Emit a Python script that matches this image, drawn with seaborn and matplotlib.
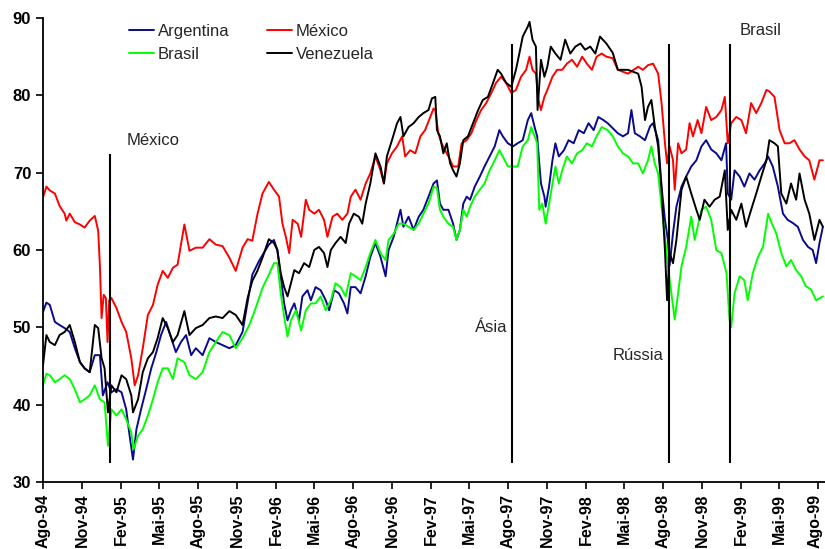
import numpy as np
import pandas as pd
import matplotlib.pyplot as plt
import matplotlib.transforms as mtransforms
import seaborn as sns

# valores (data, indice)
argentina = [
    ("1994-08-01", 52.0), ("1994-08-09", 53.2), ("1994-08-17", 52.9), ("1994-08-29", 50.7), ("1994-09-09", 50.3),
    ("1994-09-21", 49.9), ("1994-10-03", 49.4), ("1994-10-15", 47.3), ("1994-10-27", 45.5), ("1994-11-07", 44.7),
    ("1994-11-19", 44.2), ("1994-12-01", 46.4), ("1994-12-13", 46.4), ("1994-12-20", 41.2), ("1994-12-31", 42.9),
    ("1995-01-09", 41.6), ("1995-01-21", 42.0), ("1995-02-02", 41.6), ("1995-02-13", 39.4), ("1995-02-21", 36.0),
    ("1995-03-01", 32.9), ("1995-03-09", 36.8), ("1995-03-20", 39.4), ("1995-04-01", 42.0), ("1995-04-13", 44.7),
    ("1995-04-25", 46.8), ("1995-05-06", 49.0), ("1995-05-18", 50.7), ("1995-05-30", 48.6), ("1995-06-10", 46.8),
    ("1995-06-22", 48.1), ("1995-07-04", 49.0), ("1995-07-16", 46.4), ("1995-07-27", 47.3), ("1995-08-12", 46.4),
    ("1995-08-28", 48.6), ("1995-09-12", 48.1), ("1995-09-28", 47.7), ("1995-10-14", 47.3), ("1995-10-29", 47.7),
    ("1995-11-14", 49.4), ("1995-11-26", 53.3), ("1995-12-07", 56.8), ("1995-12-23", 58.6), ("1996-01-15", 60.7),
    ("1996-01-27", 61.3), ("1996-02-04", 60.0), ("1996-02-12", 56.6), ("1996-02-20", 53.1), ("1996-02-28", 50.9),
    ("1996-03-07", 52.2), ("1996-03-15", 53.1), ("1996-03-26", 50.9), ("1996-04-03", 54.0), ("1996-04-15", 54.8),
    ("1996-04-23", 53.5), ("1996-05-04", 55.2), ("1996-05-16", 54.8), ("1996-05-28", 53.5), ("1996-06-05", 52.2),
    ("1996-06-17", 54.8), ("1996-06-28", 54.4), ("1996-07-10", 53.1), ("1996-07-18", 51.8), ("1996-07-26", 55.2),
    ("1996-08-06", 55.2), ("1996-08-18", 54.4), ("1996-08-30", 56.6), ("1996-09-10", 59.1), ("1996-09-22", 60.9),
    ("1996-10-04", 59.1), ("1996-10-16", 56.6), ("1996-10-23", 60.0), ("1996-11-04", 61.7), ("1996-11-20", 65.2),
    ("1996-11-27", 63.0), ("1996-12-09", 64.3), ("1996-12-21", 62.6), ("1997-01-02", 64.3), ("1997-01-13", 65.2),
    ("1997-01-25", 66.9), ("1997-02-06", 68.6), ("1997-02-14", 69.0), ("1997-02-21", 66.0), ("1997-03-01", 65.2),
    ("1997-03-13", 65.2), ("1997-03-24", 63.4), ("1997-04-01", 61.3), ("1997-04-09", 62.6), ("1997-04-17", 66.0),
    ("1997-04-25", 66.9), ("1997-05-03", 66.5), ("1997-05-14", 68.2), ("1997-05-26", 69.5), ("1997-06-06", 70.8),
    ("1997-06-18", 72.1), ("1997-06-30", 73.4), ("1997-07-11", 75.5), ("1997-07-19", 74.7), ("1997-07-31", 73.8),
    ("1997-08-12", 73.4), ("1997-08-23", 73.8), ("1997-09-04", 74.2), ("1997-09-16", 76.8), ("1997-09-24", 77.7),
    ("1997-10-02", 75.9), ("1997-10-08", 74.7), ("1997-10-13", 71.2), ("1997-10-17", 68.6), ("1997-10-25", 66.9),
    ("1997-10-28", 65.6), ("1997-11-05", 68.2), ("1997-11-13", 71.6), ("1997-11-20", 73.8), ("1997-11-28", 72.1),
    ("1997-12-10", 72.9), ("1997-12-21", 74.2), ("1998-01-02", 73.8), ("1998-01-14", 75.5), ("1998-01-26", 75.1),
    ("1998-02-06", 76.4), ("1998-02-18", 75.5), ("1998-03-01", 77.2), ("1998-03-13", 76.8), ("1998-03-23", 76.4),
    ("1998-04-16", 75.1), ("1998-04-28", 74.7), ("1998-05-10", 75.1), ("1998-05-18", 78.1), ("1998-05-26", 75.1),
    ("1998-06-07", 74.7), ("1998-06-19", 74.2), ("1998-07-01", 76.0), ("1998-07-08", 76.4), ("1998-07-20", 74.2),
    ("1998-07-28", 68.2), ("1998-08-05", 63.9), ("1998-08-12", 61.3), ("1998-08-16", 58.0), ("1998-08-24", 62.2),
    ("1998-09-01", 65.6), ("1998-09-13", 68.2), ("1998-09-24", 69.5), ("1998-10-06", 70.8), ("1998-10-18", 71.6),
    ("1998-10-30", 73.4), ("1998-11-10", 74.2), ("1998-11-22", 73.0), ("1998-12-04", 72.5), ("1998-12-16", 71.6),
    ("1998-12-27", 73.8), ("1998-12-31", 67.3), ("1999-01-08", 66.5), ("1999-01-16", 70.3), ("1999-01-28", 69.5),
    ("1999-02-08", 68.2), ("1999-02-20", 69.9), ("1999-03-04", 69.1), ("1999-03-16", 70.3), ("1999-03-28", 71.2),
    ("1999-04-05", 72.1), ("1999-04-16", 70.8), ("1999-04-28", 68.2), ("1999-05-10", 64.7), ("1999-05-21", 63.9),
    ("1999-06-02", 63.5), ("1999-06-14", 63.0), ("1999-06-26", 61.3), ("1999-07-08", 60.4), ("1999-07-19", 60.0),
    ("1999-07-27", 58.3), ("1999-08-04", 60.9), ("1999-08-12", 63.0),
]

brasil = [
    ("1994-08-01", 42.5), ("1994-08-09", 44.0), ("1994-08-17", 43.8), ("1994-08-29", 42.9), ("1994-09-09", 43.3),
    ("1994-09-21", 43.8), ("1994-10-03", 43.3), ("1994-10-15", 42.0), ("1994-10-27", 40.3), ("1994-11-07", 40.7),
    ("1994-11-19", 41.2), ("1994-12-01", 42.5), ("1994-12-13", 40.7), ("1994-12-24", 40.3), ("1995-01-01", 34.7),
    ("1995-01-09", 39.4), ("1995-01-21", 38.6), ("1995-02-02", 39.4), ("1995-02-13", 38.1), ("1995-02-25", 36.4),
    ("1995-03-02", 34.2), ("1995-03-13", 36.0), ("1995-03-24", 36.8), ("1995-04-05", 38.6), ("1995-04-17", 40.7),
    ("1995-04-28", 42.9), ("1995-05-10", 44.7), ("1995-05-22", 44.7), ("1995-06-03", 43.3), ("1995-06-14", 46.0),
    ("1995-06-30", 45.5), ("1995-07-12", 43.8), ("1995-07-27", 43.3), ("1995-08-12", 44.2), ("1995-08-28", 46.8),
    ("1995-09-12", 48.1), ("1995-09-28", 49.4), ("1995-10-14", 49.0), ("1995-10-29", 47.3), ("1995-11-14", 48.6),
    ("1995-11-30", 50.3), ("1995-12-15", 52.5), ("1995-12-31", 55.1), ("1996-01-15", 56.8), ("1996-01-27", 58.3),
    ("1996-02-04", 58.3), ("1996-02-12", 54.4), ("1996-02-20", 51.4), ("1996-02-28", 48.8), ("1996-03-07", 50.9),
    ("1996-03-19", 52.2), ("1996-03-31", 49.6), ("1996-04-11", 52.2), ("1996-04-23", 53.1), ("1996-05-04", 53.1),
    ("1996-05-16", 54.0), ("1996-05-28", 52.2), ("1996-06-09", 53.5), ("1996-06-20", 55.7), ("1996-07-02", 55.2),
    ("1996-07-14", 54.0), ("1996-07-26", 57.0), ("1996-08-06", 56.6), ("1996-08-18", 56.1), ("1996-08-30", 57.8),
    ("1996-09-10", 59.6), ("1996-09-22", 61.3), ("1996-10-04", 59.6), ("1996-10-16", 58.7), ("1996-10-23", 61.3),
    ("1996-11-04", 62.1), ("1996-11-16", 63.4), ("1996-11-27", 63.4), ("1996-12-09", 63.0), ("1996-12-21", 62.6),
    ("1997-01-02", 63.4), ("1997-01-13", 64.7), ("1997-01-25", 66.0), ("1997-02-06", 68.2), ("1997-02-14", 68.0),
    ("1997-02-21", 65.2), ("1997-03-01", 64.3), ("1997-03-13", 63.4), ("1997-03-24", 63.0), ("1997-04-01", 61.3),
    ("1997-04-09", 62.6), ("1997-04-17", 65.2), ("1997-04-25", 64.3), ("1997-05-03", 65.6), ("1997-05-14", 66.9),
    ("1997-05-26", 67.8), ("1997-06-06", 68.6), ("1997-06-18", 70.3), ("1997-06-30", 71.6), ("1997-07-11", 72.9),
    ("1997-07-19", 72.1), ("1997-07-31", 70.8), ("1997-08-12", 70.8), ("1997-08-23", 70.8), ("1997-09-04", 73.4),
    ("1997-09-16", 74.2), ("1997-09-24", 75.9), ("1997-10-02", 74.7), ("1997-10-08", 73.8), ("1997-10-13", 65.2),
    ("1997-10-20", 66.0), ("1997-10-28", 63.4), ("1997-11-05", 66.0), ("1997-11-13", 68.6), ("1997-11-20", 70.8),
    ("1997-11-28", 68.6), ("1997-12-06", 70.3), ("1997-12-17", 72.1), ("1997-12-29", 71.2), ("1998-01-10", 72.5),
    ("1998-01-22", 72.9), ("1998-02-02", 73.8), ("1998-02-14", 73.4), ("1998-02-25", 74.7), ("1998-03-09", 75.9),
    ("1998-03-23", 75.5), ("1998-04-04", 74.7), ("1998-04-16", 73.4), ("1998-04-28", 72.5), ("1998-05-10", 72.1),
    ("1998-05-22", 71.2), ("1998-06-03", 71.2), ("1998-06-14", 69.9), ("1998-06-26", 71.6), ("1998-07-04", 73.4),
    ("1998-07-12", 71.2), ("1998-07-20", 69.9), ("1998-07-28", 65.6), ("1998-08-05", 61.7), ("1998-08-12", 57.9),
    ("1998-08-20", 54.4), ("1998-08-28", 51.0), ("1998-09-05", 54.4), ("1998-09-13", 57.9), ("1998-09-24", 60.4),
    ("1998-10-06", 64.3), ("1998-10-14", 61.3), ("1998-10-21", 63.0), ("1998-10-30", 65.2), ("1998-11-10", 65.6),
    ("1998-11-22", 63.9), ("1998-12-04", 60.0), ("1998-12-16", 59.6), ("1998-12-28", 57.0), ("1999-01-04", 51.0),
    ("1999-01-08", 50.0), ("1999-01-16", 54.4), ("1999-01-28", 56.6), ("1999-02-08", 56.1), ("1999-02-16", 53.5),
    ("1999-02-28", 57.0), ("1999-03-12", 59.1), ("1999-03-24", 60.4), ("1999-04-05", 64.7), ("1999-04-13", 63.5),
    ("1999-04-24", 62.2), ("1999-05-06", 59.6), ("1999-05-18", 57.9), ("1999-05-29", 58.7), ("1999-06-10", 57.4),
    ("1999-06-22", 56.6), ("1999-07-03", 55.3), ("1999-07-15", 54.9), ("1999-07-27", 53.5), ("1999-08-12", 54.0),
]

mexico = [
    ("1994-08-01", 66.8), ("1994-08-09", 68.2), ("1994-08-17", 67.7), ("1994-08-29", 67.3), ("1994-09-09", 65.7),
    ("1994-09-21", 64.7), ("1994-09-25", 63.8), ("1994-10-03", 64.7), ("1994-10-15", 63.6), ("1994-10-27", 63.3),
    ("1994-11-07", 62.9), ("1994-11-19", 63.8), ("1994-12-01", 64.4), ("1994-12-09", 62.5), ("1994-12-13", 58.0),
    ("1994-12-17", 51.2), ("1994-12-22", 54.2), ("1994-12-27", 53.8), ("1994-12-31", 48.1), ("1995-01-04", 53.5),
    ("1995-01-09", 53.8), ("1995-01-21", 52.5), ("1995-02-02", 50.7), ("1995-02-13", 49.4), ("1995-02-25", 46.0),
    ("1995-03-05", 42.5), ("1995-03-13", 43.8), ("1995-03-24", 47.3), ("1995-04-05", 51.6), ("1995-04-17", 52.9),
    ("1995-04-28", 55.5), ("1995-05-10", 57.3), ("1995-05-22", 56.4), ("1995-06-03", 57.7), ("1995-06-14", 58.1),
    ("1995-06-22", 60.7), ("1995-06-30", 63.3), ("1995-07-12", 59.9), ("1995-07-27", 60.3), ("1995-08-12", 60.3),
    ("1995-08-28", 61.4), ("1995-09-12", 60.7), ("1995-09-28", 60.5), ("1995-10-14", 59.0), ("1995-10-29", 57.3),
    ("1995-11-14", 60.3), ("1995-11-26", 61.4), ("1995-12-07", 61.2), ("1995-12-19", 64.6), ("1995-12-31", 67.3),
    ("1996-01-15", 68.8), ("1996-01-27", 67.8), ("1996-02-08", 66.9), ("1996-02-16", 63.4), ("1996-02-24", 61.7),
    ("1996-03-03", 59.6), ("1996-03-11", 63.9), ("1996-03-23", 63.4), ("1996-03-31", 61.7), ("1996-04-11", 66.5),
    ("1996-04-19", 65.2), ("1996-05-01", 64.7), ("1996-05-12", 65.2), ("1996-05-24", 63.9), ("1996-06-01", 61.7),
    ("1996-06-13", 64.3), ("1996-06-24", 64.7), ("1996-07-06", 63.9), ("1996-07-18", 64.7), ("1996-07-26", 66.9),
    ("1996-08-06", 67.8), ("1996-08-18", 66.5), ("1996-08-30", 68.6), ("1996-09-10", 69.9), ("1996-09-22", 72.1),
    ("1996-10-04", 70.3), ("1996-10-12", 68.6), ("1996-10-19", 71.2), ("1996-10-31", 72.5), ("1996-11-12", 73.4),
    ("1996-11-24", 74.7), ("1996-12-01", 72.1), ("1996-12-13", 72.9), ("1996-12-25", 72.5), ("1997-01-06", 74.7),
    ("1997-01-17", 75.5), ("1997-01-29", 77.2), ("1997-02-06", 78.3), ("1997-02-10", 78.1), ("1997-02-17", 75.1),
    ("1997-02-25", 73.8), ("1997-03-05", 72.9), ("1997-03-13", 72.1), ("1997-03-24", 70.8), ("1997-04-05", 70.8),
    ("1997-04-13", 73.8), ("1997-04-25", 74.2), ("1997-05-06", 75.1), ("1997-05-18", 76.8), ("1997-05-29", 78.1),
    ("1997-06-10", 79.0), ("1997-06-22", 80.3), ("1997-07-03", 81.6), ("1997-07-15", 82.4), ("1997-07-27", 81.6),
    ("1997-08-08", 80.3), ("1997-08-19", 80.7), ("1997-08-31", 82.4), ("1997-09-12", 83.3), ("1997-09-20", 85.0),
    ("1997-09-27", 83.3), ("1997-10-05", 82.8), ("1997-10-11", 79.4), ("1997-10-17", 78.1), ("1997-10-25", 79.8),
    ("1997-11-01", 80.7), ("1997-11-13", 82.4), ("1997-11-24", 83.3), ("1997-12-06", 83.3), ("1997-12-17", 84.1),
    ("1997-12-29", 84.6), ("1998-01-10", 83.7), ("1998-01-22", 85.0), ("1998-02-02", 84.1), ("1998-02-14", 83.3),
    ("1998-02-25", 85.0), ("1998-03-09", 85.4), ("1998-03-20", 85.0), ("1998-04-04", 84.8), ("1998-04-16", 83.3),
    ("1998-05-10", 82.8), ("1998-06-03", 83.7), ("1998-06-14", 83.3), ("1998-06-26", 83.9), ("1998-07-08", 84.1),
    ("1998-07-20", 82.8), ("1998-07-28", 79.0), ("1998-08-05", 73.8), ("1998-08-10", 71.2), ("1998-08-16", 73.4),
    ("1998-08-24", 71.6), ("1998-08-28", 67.8), ("1998-09-05", 73.8), ("1998-09-13", 72.5), ("1998-09-24", 73.0),
    ("1998-10-02", 76.4), ("1998-10-10", 74.7), ("1998-10-21", 76.8), ("1998-10-30", 75.1), ("1998-11-10", 78.5),
    ("1998-11-22", 76.8), ("1998-12-04", 77.2), ("1998-12-16", 78.1), ("1998-12-24", 79.8), ("1998-12-31", 73.8),
    ("1999-01-08", 76.4), ("1999-01-20", 77.2), ("1999-02-01", 76.8), ("1999-02-12", 75.1), ("1999-02-24", 79.0),
    ("1999-03-08", 77.7), ("1999-03-20", 79.0), ("1999-04-01", 80.7), ("1999-04-08", 80.5), ("1999-04-20", 79.8),
    ("1999-05-02", 75.5), ("1999-05-14", 73.8), ("1999-05-25", 73.8), ("1999-06-06", 74.2), ("1999-06-18", 73.0),
    ("1999-06-30", 72.1), ("1999-07-11", 71.6), ("1999-07-23", 69.1), ("1999-08-04", 71.6), ("1999-08-12", 71.6),
]

venezuela = [
    ("1994-08-01", 45.1), ("1994-08-09", 49.0), ("1994-08-17", 48.1), ("1994-08-29", 47.7), ("1994-09-09", 49.0),
    ("1994-09-21", 49.4), ("1994-10-03", 50.3), ("1994-10-15", 48.1), ("1994-10-27", 45.5), ("1994-11-07", 44.7),
    ("1994-11-19", 44.2), ("1994-12-01", 50.3), ("1994-12-09", 49.9), ("1994-12-17", 46.0), ("1994-12-24", 44.7),
    ("1995-01-01", 39.0), ("1995-01-09", 42.5), ("1995-01-21", 41.6), ("1995-02-02", 43.8), ("1995-02-13", 43.3),
    ("1995-02-25", 41.2), ("1995-03-01", 39.0), ("1995-03-13", 40.7), ("1995-03-24", 44.2), ("1995-04-05", 46.0),
    ("1995-04-17", 46.8), ("1995-04-28", 48.6), ("1995-05-10", 51.2), ("1995-05-22", 49.9), ("1995-06-03", 48.1),
    ("1995-06-14", 49.0), ("1995-06-30", 52.1), ("1995-07-12", 49.0), ("1995-07-27", 49.9), ("1995-08-12", 50.3),
    ("1995-08-28", 51.2), ("1995-09-12", 51.4), ("1995-09-28", 51.2), ("1995-10-14", 52.1), ("1995-10-29", 51.6),
    ("1995-11-14", 50.3), ("1995-11-26", 53.8), ("1995-12-07", 56.0), ("1995-12-19", 57.3), ("1995-12-31", 59.0),
    ("1996-01-15", 61.4), ("1996-01-27", 60.9), ("1996-02-04", 60.0), ("1996-02-12", 57.0), ("1996-02-20", 55.2),
    ("1996-02-28", 54.0), ("1996-03-07", 55.7), ("1996-03-15", 57.4), ("1996-03-26", 57.0), ("1996-04-07", 58.3),
    ("1996-04-19", 57.8), ("1996-05-01", 60.0), ("1996-05-12", 60.4), ("1996-05-24", 59.6), ("1996-06-01", 57.8),
    ("1996-06-09", 60.0), ("1996-06-20", 60.9), ("1996-07-02", 61.7), ("1996-07-14", 60.9), ("1996-07-22", 63.4),
    ("1996-08-02", 64.7), ("1996-08-14", 64.3), ("1996-08-22", 63.4), ("1996-08-30", 66.0), ("1996-09-10", 68.6),
    ("1996-09-22", 72.5), ("1996-10-04", 70.8), ("1996-10-12", 68.6), ("1996-10-19", 72.1), ("1996-10-31", 74.2),
    ("1996-11-12", 76.4), ("1996-11-20", 77.2), ("1996-11-27", 74.7), ("1996-12-09", 75.9), ("1996-12-21", 76.4),
    ("1997-01-02", 77.2), ("1997-01-13", 77.7), ("1997-01-25", 78.1), ("1997-02-02", 79.6), ("1997-02-10", 79.8),
    ("1997-02-14", 75.5), ("1997-02-21", 74.7), ("1997-03-01", 72.5), ("1997-03-09", 73.8), ("1997-03-17", 71.2),
    ("1997-03-24", 70.3), ("1997-04-01", 69.5), ("1997-04-09", 71.2), ("1997-04-17", 74.2), ("1997-04-28", 74.7),
    ("1997-05-10", 76.4), ("1997-05-22", 78.1), ("1997-06-02", 79.4), ("1997-06-14", 79.8), ("1997-06-26", 81.6),
    ("1997-07-07", 83.3), ("1997-07-15", 82.8), ("1997-07-27", 81.6), ("1997-08-08", 81.1), ("1997-08-19", 83.3),
    ("1997-08-27", 85.4), ("1997-09-04", 87.6), ("1997-09-16", 88.9), ("1997-09-20", 89.5), ("1997-09-27", 87.2),
    ("1997-10-05", 86.3), ("1997-10-09", 78.1), ("1997-10-17", 84.6), ("1997-10-25", 82.4), ("1997-11-01", 83.7),
    ("1997-11-09", 86.3), ("1997-11-20", 85.4), ("1997-12-02", 84.6), ("1997-12-13", 87.2), ("1997-12-25", 85.4),
    ("1998-01-06", 86.3), ("1998-01-18", 86.7), ("1998-01-29", 85.9), ("1998-02-10", 86.3), ("1998-02-22", 85.4),
    ("1998-03-05", 87.6), ("1998-03-20", 86.7), ("1998-04-04", 85.5), ("1998-04-16", 83.3), ("1998-05-10", 83.3),
    ("1998-06-03", 82.8), ("1998-06-11", 81.1), ("1998-06-19", 76.8), ("1998-06-26", 78.5), ("1998-07-04", 79.4),
    ("1998-07-12", 76.0), ("1998-07-20", 73.4), ("1998-07-28", 67.8), ("1998-08-05", 60.0), ("1998-08-10", 53.5),
    ("1998-08-16", 59.6), ("1998-08-24", 58.3), ("1998-09-01", 61.3), ("1998-09-13", 67.8), ("1998-09-24", 69.5),
    ("1998-10-06", 67.3), ("1998-10-18", 65.2), ("1998-10-26", 63.9), ("1998-11-06", 66.5), ("1998-11-18", 65.6),
    ("1998-11-30", 66.5), ("1998-12-12", 66.9), ("1998-12-24", 70.3), ("1998-12-31", 62.6), ("1999-01-08", 65.2),
    ("1999-01-20", 63.9), ("1999-02-01", 66.0), ("1999-02-12", 63.0), ("1999-02-24", 65.2), ("1999-03-08", 67.3),
    ("1999-03-20", 69.5), ("1999-04-01", 71.6), ("1999-04-08", 74.2), ("1999-04-20", 73.8), ("1999-04-28", 73.4),
    ("1999-05-06", 67.3), ("1999-05-18", 66.0), ("1999-05-29", 68.6), ("1999-06-10", 66.5), ("1999-06-18", 69.9),
    ("1999-06-30", 66.5), ("1999-07-11", 64.7), ("1999-07-23", 61.3), ("1999-08-04", 63.9), ("1999-08-12", 63.0),
]

paises = ["Argentina", "Brasil", "México", "Venezuela"]
cores = ["#0a0a8c", "#00ff00", "#ff0000", "#000000"]

crises = ["México", "Ásia", "Rússia", "Brasil"]
crise_datas = ["1995-01-06", "1997-08-10", "1998-08-15", "1999-01-06"]
crise_topo = [72.4, 86.7, 86.7, 86.7]

meses = {2: "Fev", 5: "Mai", 8: "Ago", 11: "Nov"}
ticks = pd.date_range("1994-08-01", "1999-08-01", freq="3MS")
tick_labels = [f"{meses[d.month]}-{str(d.year)[2:]}" for d in ticks]

partes = []
for nome, serie in zip(paises, [argentina, brasil, mexico, venezuela]):
    p = pd.DataFrame(serie, columns=["data", "valor"])
    p["pais"] = nome
    partes.append(p)
df = pd.concat(partes, ignore_index=True)
df["data"] = pd.to_datetime(df["data"])

sns.set_style("ticks")
plt.rcParams["font.family"] = ["Liberation Sans", "DejaVu Sans"]

fig = plt.figure(figsize=(8.25, 5.49), dpi=100)
ax = fig.add_axes([43 / 825, 1 - 482 / 549, 782 / 825, 464 / 549])

sns.lineplot(data=df, x="data", y="valor", hue="pais", hue_order=paises,
             palette=cores, linewidth=1.4, errorbar=None, ax=ax)

ax.vlines(pd.to_datetime(crise_datas), 32.5, crise_topo, color="black", linewidth=1.5)
ax.text(pd.Timestamp("1995-02-14"), 74.2, crises[0], fontsize=12, va="center")
ax.text(pd.Timestamp("1997-07-30"), 50.0, crises[1], fontsize=12, va="center", ha="right")
ax.text(pd.Timestamp("1998-08-02"), 46.4, crises[2], fontsize=12, va="center", ha="right")
ax.text(pd.Timestamp("1999-01-28"), 88.4, crises[3], fontsize=12, va="center")

ax.set_xlim(pd.Timestamp("1994-08-01"), pd.Timestamp("1999-08-17"))
ax.set_ylim(30, 90)
ax.set_yticks(range(30, 91, 10))
ax.set_xticks(ticks)
ax.set_xticklabels(tick_labels, rotation=90, fontweight="bold", fontsize=11.5)
for t in ax.get_yticklabels():
    t.set_fontweight("bold")
    t.set_fontsize(12)
ax.tick_params(direction="out", length=5, width=1.2, colors="black")
ax.set_xlabel("")
ax.set_ylabel("")
sns.despine(ax=ax)
for s in ["left", "bottom"]:
    ax.spines[s].set_linewidth(1.3)
    ax.spines[s].set_color("black")

# ultimo rotulo encostado na borda: puxa um pouco para a esquerda
ultimo = ax.get_xticklabels()[-1]
ultimo.set_transform(ultimo.get_transform() + mtransforms.ScaledTranslation(-3 / 100, 0, fig.dpi_scale_trans))

ax.legend(loc="upper left", bbox_to_anchor=(0.091, 1.02), ncol=2, frameon=False,
          fontsize=12, handlelength=1.5, handletextpad=0.2, columnspacing=2.3,
          labelspacing=0.5)

fig.savefig("out.png", dpi=100)
